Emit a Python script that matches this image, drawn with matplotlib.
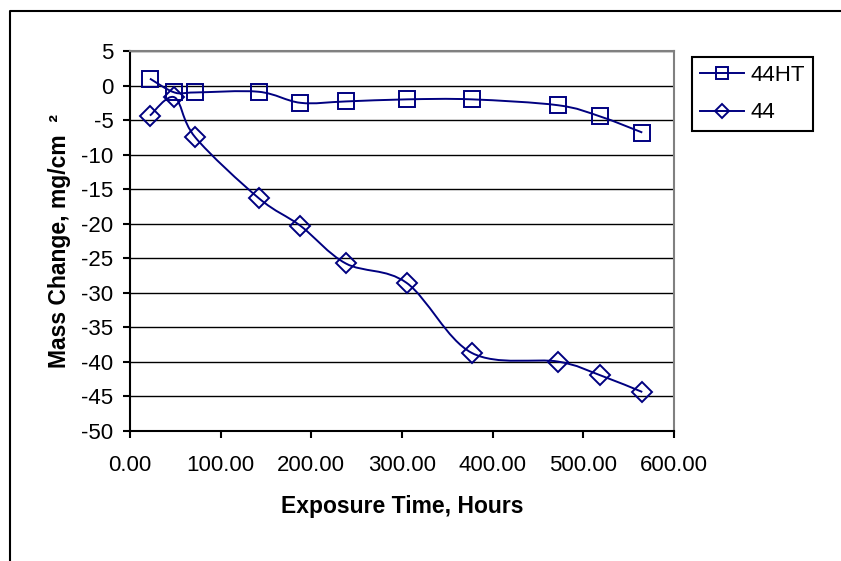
import numpy as np
import matplotlib.pyplot as plt
from matplotlib.path import Path
from matplotlib.patches import PathPatch
from matplotlib.lines import Line2D

plt.rcParams['font.family'] = ['Liberation Sans', 'DejaVu Sans']
plt.rcParams['axes.unicode_minus'] = False

# data
hours = [22, 49, 72, 142, 188, 238, 305, 377, 472, 518, 565]
mass_44ht = [1.0, -1.0, -1.0, -0.9, -2.5, -2.3, -2.0, -2.0, -2.85, -4.45, -6.8]
mass_44 = [-4.35, -1.7, -7.5, -16.3, -20.3, -25.75, -28.55, -38.7, -39.95, -41.9, -44.35]
series_names = ['44HT', '44']
y_ticks = list(range(-50, 6, 5))
x_ticks = [0, 100, 200, 300, 400, 500, 600]

navy = '#000080'


def smooth_path(x, y):
    # bezier curve through the points, like a spreadsheet "smoothed line"
    p = np.column_stack([x, y]).astype(float)
    verts = [p[0]]
    codes = [Path.MOVETO]
    n = len(p)
    for i in range(n - 1):
        p0 = p[i - 1] if i > 0 else p[i]
        p3 = p[i + 2] if i + 2 < n else p[i + 1]
        c1 = p[i] + (p[i + 1] - p0) / 6
        c2 = p[i + 1] - (p3 - p[i]) / 6
        verts += [c1, c2, p[i + 1]]
        codes += [Path.CURVE4] * 3
    return Path(verts, codes)


fig = plt.figure(figsize=(8.41, 5.61), dpi=100)
W, H = 841, 561
ax = fig.add_axes([130 / W, 1 - 431 / H, (674 - 130) / W, (431 - 51) / H])

# outer chart frame (only left and top edges show)
fig.add_artist(Line2D([10 / W, 10 / W, 1], [0, 1 - 11 / H, 1 - 11 / H],
                      transform=fig.transFigure, color='black', lw=1.5))

ax.set_xlim(0, 600)
ax.set_ylim(-50, 5)
ax.set_yticks(y_ticks)
ax.set_xticks(x_ticks)
ax.set_xticklabels([f'{v:.2f}' for v in x_ticks])
ax.yaxis.grid(True, color='black', lw=1)
ax.set_axisbelow(True)

for s in ['top', 'right']:
    ax.spines[s].set_color('#808080')
    ax.spines[s].set_linewidth(1.5)
for s in ['left', 'bottom']:
    ax.spines[s].set_color('black')
    ax.spines[s].set_linewidth(1.5)

ax.tick_params(axis='both', direction='out', length=5, width=1.5, labelsize=16, colors='black')
ax.tick_params(axis='x', pad=12)
ax.tick_params(axis='y', pad=7)

ax.add_patch(PathPatch(smooth_path(hours, mass_44ht), fill=False, ec=navy, lw=1.4, zorder=3))
ax.add_patch(PathPatch(smooth_path(hours, mass_44), fill=False, ec=navy, lw=1.4, zorder=3))
ax.plot(hours, mass_44ht, ls='none', marker='s', ms=12, mfc='none', mec=navy, mew=1.4, zorder=4, clip_on=False)
ax.plot(hours, mass_44, ls='none', marker='D', ms=10.5, mfc='none', mec=navy, mew=1.4, zorder=4, clip_on=False)

ax.set_xlabel('Exposure Time, Hours', fontsize=16.5, fontweight='bold', labelpad=14)
ax.set_ylabel('Mass Change, mg/cm  ²', fontsize=16.5, fontweight='bold', labelpad=7)

handles = [
    Line2D([], [], color=navy, lw=1.4, marker='s', ms=9, mfc='none', mec=navy, mew=1.4),
    Line2D([], [], color=navy, lw=1.4, marker='D', ms=7, mfc='none', mec=navy, mew=1.4),
]
leg = fig.legend(handles, series_names, loc='upper left',
                 bbox_to_anchor=(692 / W, 1 - 57 / H), borderaxespad=0, fontsize=16,
                 numpoints=1, handlelength=2.0, handletextpad=0.3,
                 borderpad=0.35, labelspacing=0.75, fancybox=False, framealpha=1)
leg.get_frame().set_edgecolor('black')
leg.get_frame().set_linewidth(1.5)

fig.savefig('out.png', dpi=100)
